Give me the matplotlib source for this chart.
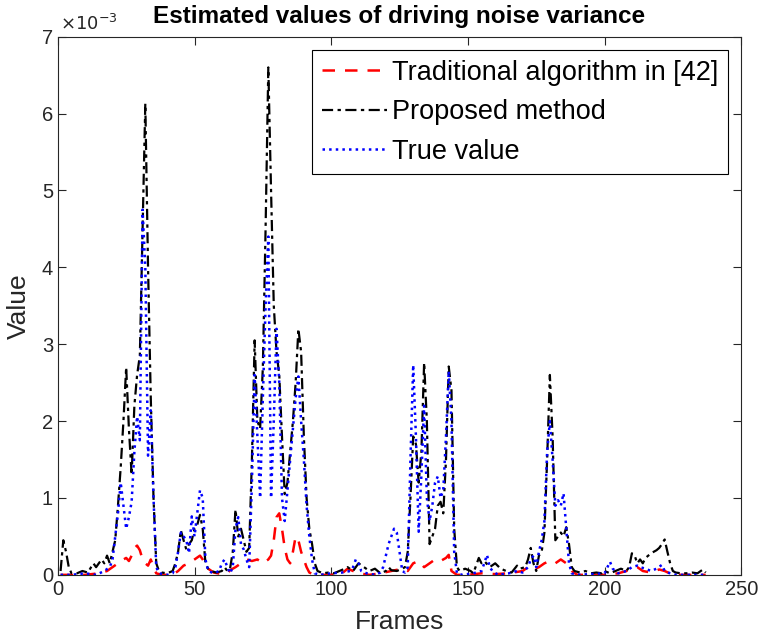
import numpy as np
from matplotlib import pyplot as plt

# Proposed method (black dash-dot), frame -> value in 1e-3 units
prop_frames = [1, 2, 3, 4, 5, 7, 9, 11, 13, 14, 16, 17, 18, 19, 20, 21, 22, 23, 24, 25,
               26, 27, 28, 29, 30, 31, 32, 33, 34, 35, 36, 37, 38, 40, 42, 43, 44, 45, 46, 47,
               48, 49, 50, 51, 52, 53, 54, 55, 56, 58, 60, 61, 62, 63, 64, 65, 66, 67, 68, 69,
               70, 71, 72, 73, 74, 75, 76, 77, 78, 79, 80, 81, 82, 83, 84, 85, 86, 87, 88, 89,
               90, 91, 92, 93, 94, 95, 97, 99, 101, 103, 105, 106, 108, 110, 112, 114, 116, 118, 120, 121,
               122, 124, 126, 127, 128, 129, 130, 131, 132, 133, 134, 135, 136, 137, 138, 139, 140, 141, 142, 143,
               144, 145, 146, 147, 149, 151, 152, 154, 155, 156, 158, 160, 162, 164, 166, 168, 169, 171, 172, 173,
               174, 175, 176, 177, 178, 179, 180, 181, 182, 183, 184, 185, 186, 187, 188, 189, 191, 193, 195, 197,
               199, 200, 202, 204, 206, 208, 209, 210, 211, 212, 213, 214, 215, 216, 217, 218, 219, 220, 221, 222,
               223, 224, 225, 226, 228, 230, 232, 234, 236, 237]
prop_vals = [0.05, 0.45, 0.3, 0.1, 0.02, 0.02, 0.05, 0.03, 0.15, 0.1, 0.2, 0.15, 0.25, 0.15, 0.3, 0.45, 0.9, 1.4, 2.0, 2.7,
             1.9, 1.3, 2.2, 2.6, 2.85, 4.5, 6.13, 4.0, 2.3, 1.0, 0.15, 0.05, 0.03, 0.02, 0.05, 0.15, 0.3, 0.58, 0.45, 0.33,
             0.4, 0.45, 0.6, 0.65, 0.78, 0.6, 0.15, 0.08, 0.05, 0.03, 0.05, 0.1, 0.05, 0.08, 0.3, 0.85, 0.5, 0.6, 0.45, 0.3,
             0.35, 1.5, 3.05, 2.0, 1.9, 2.7, 4.5, 6.6, 5.0, 3.5, 2.9, 2.6, 1.8, 1.05, 1.2, 1.6, 2.0, 2.5, 3.2, 2.9,
             1.8, 1.0, 0.6, 0.4, 0.15, 0.05, 0.02, 0.03, 0.02, 0.05, 0.08, 0.1, 0.05, 0.15, 0.1, 0.05, 0.08, 0.02, 0.05, 0.1,
             0.06, 0.05, 0.08, 0.1, 0.3, 1.0, 1.8, 1.7, 1.2, 1.6, 2.76, 2.0, 0.4, 0.5, 0.6, 0.9, 0.95, 0.8, 1.5, 2.71,
             2.4, 0.6, 0.1, 0.05, 0.08, 0.05, 0.02, 0.22, 0.15, 0.18, 0.1, 0.15, 0.08, 0.05, 0.03, 0.12, 0.08, 0.1, 0.2, 0.35,
             0.15, 0.05, 0.25, 0.3, 0.55, 1.5, 2.6, 1.8, 0.45, 0.5, 0.55, 0.5, 0.62, 0.4, 0.1, 0.05, 0.03, 0.05, 0.02, 0.03,
             0.02, 0.05, 0.02, 0.05, 0.08, 0.05, 0.1, 0.28, 0.25, 0.15, 0.2, 0.15, 0.22, 0.25, 0.28, 0.3, 0.32, 0.35, 0.4, 0.46,
             0.3, 0.15, 0.05, 0.03, 0.02, 0.02, 0.03, 0.02, 0.07, 0.03]

# True value (blue dotted)
true_frames = [1, 5, 10, 14, 17, 19, 20, 21, 22, 23, 24, 25, 26, 27, 28, 29, 30, 31, 32, 33,
               34, 35, 36, 37, 40, 42, 43, 44, 45, 46, 47, 48, 49, 50, 51, 52, 53, 54, 55, 57,
               59, 60, 61, 62, 63, 64, 65, 66, 67, 68, 69, 70, 71, 72, 73, 74, 75, 76, 77, 78,
               79, 80, 81, 82, 83, 84, 85, 86, 87, 88, 89, 90, 91, 92, 93, 94, 96, 100, 104, 107,
               108, 109, 110, 111, 113, 116, 118, 119, 120, 121, 122, 123, 124, 125, 126, 127, 128, 129, 130, 131,
               132, 133, 134, 135, 136, 137, 138, 139, 140, 141, 142, 143, 144, 145, 146, 148, 152, 155, 156, 157,
               158, 159, 161, 165, 168, 170, 172, 173, 174, 175, 176, 177, 178, 179, 180, 181, 182, 183, 184, 185,
               186, 187, 188, 190, 195, 200, 202, 203, 205, 208, 210, 212, 213, 215, 217, 219, 221, 222, 224, 226,
               230, 234, 237]
true_vals = [0.0, 0.0, 0.02, 0.0, 0.05, 0.1, 0.2, 0.5, 0.8, 1.2, 0.9, 0.6, 0.75, 0.95, 1.6, 2.06, 1.75, 4.75, 4.0, 1.55,
             2.14, 1.0, 0.1, 0.02, 0.0, 0.02, 0.1, 0.3, 0.55, 0.5, 0.45, 0.28, 0.76, 0.5, 0.8, 1.1, 1.0, 0.2, 0.05, 0.02,
             0.05, 0.15, 0.2, 0.1, 0.02, 0.1, 0.6, 0.75, 0.4, 0.33, 0.2, 0.1, 1.2, 2.6, 1.8, 1.0, 2.3, 3.5, 4.4, 1.0,
             2.0, 3.2, 2.5, 1.0, 0.7, 1.1, 1.5, 1.9, 2.3, 2.58, 2.0, 1.5, 0.9, 0.5, 0.2, 0.02, 0.0, 0.02, 0.03, 0.05,
             0.1, 0.2, 0.15, 0.05, 0.02, 0.0, 0.03, 0.1, 0.25, 0.4, 0.5, 0.6, 0.55, 0.3, 0.05, 0.03, 0.1, 1.5, 2.73, 1.8,
             0.56, 1.3, 2.2, 1.0, 0.7, 0.9, 1.2, 1.28, 1.0, 1.1, 1.8, 2.65, 2.0, 0.3, 0.02, 0.0, 0.02, 0.05, 0.15, 0.26,
             0.1, 0.05, 0.0, 0.02, 0.05, 0.03, 0.1, 0.2, 0.25, 0.1, 0.3, 0.45, 0.7, 1.6, 2.0, 1.5, 0.9, 0.97, 0.9, 1.06,
             0.6, 0.15, 0.02, 0.0, 0.01, 0.02, 0.17, 0.08, 0.02, 0.05, 0.1, 0.12, 0.1, 0.08, 0.05, 0.08, 0.13, 0.05, 0.02, 0.0,
             0.0, 0.0, 0.0]

# Traditional algorithm (red dashed)
trad_frames = [1, 10, 15, 18, 20, 22, 24, 25, 26, 27, 28, 29, 30, 31, 32, 33, 34, 35, 36, 38,
               42, 44, 46, 48, 50, 52, 53, 55, 57, 60, 62, 63, 65, 67, 69, 71, 73, 75, 77, 78,
               79, 80, 81, 82, 83, 84, 85, 86, 87, 88, 89, 90, 91, 92, 94, 100, 104, 106, 108, 110,
               114, 118, 122, 126, 128, 130, 132, 134, 136, 138, 140, 142, 143, 144, 146, 150, 155, 160, 165, 170,
               172, 174, 176, 178, 180, 182, 184, 186, 188, 190, 200, 205, 208, 210, 212, 214, 217, 220, 222, 225,
               237]
trad_vals = [0.0, 0.0, 0.02, 0.05, 0.1, 0.15, 0.2, 0.22, 0.18, 0.25, 0.35, 0.38, 0.32, 0.2, 0.15, 0.12, 0.2, 0.1, 0.02, 0.0,
             0.0, 0.05, 0.12, 0.15, 0.2, 0.25, 0.2, 0.08, 0.03, 0.01, 0.02, 0.06, 0.1, 0.15, 0.2, 0.18, 0.2, 0.15, 0.2, 0.25,
             0.45, 0.75, 0.8, 0.6, 0.35, 0.2, 0.15, 0.3, 0.5, 0.45, 0.3, 0.2, 0.1, 0.03, 0.0, 0.0, 0.02, 0.08, 0.05, 0.02,
             0.0, 0.02, 0.05, 0.08, 0.05, 0.15, 0.18, 0.1, 0.15, 0.2, 0.18, 0.22, 0.26, 0.05, 0.0, 0.0, 0.02, 0.01, 0.02, 0.05,
             0.1, 0.07, 0.1, 0.15, 0.18, 0.15, 0.2, 0.15, 0.05, 0.0, 0.0, 0.02, 0.05, 0.07, 0.1, 0.05, 0.03, 0.07, 0.05, 0.0,
             0.0]

x_ticks = [0, 50, 100, 150, 200, 250]
y_ticks = [0, 1, 2, 3, 4, 5, 6, 7]

plt.rcParams['font.family'] = ['Liberation Sans', 'DejaVu Sans']

fig = plt.figure(figsize=(7.61, 6.43), dpi=100)
ax = fig.add_axes([0.076, 0.106, 0.898, 0.837])

ax.plot(trad_frames, np.array(trad_vals) * 1e-3, '--', color='red', lw=1.8, dashes=(5, 4),
        label='Traditional algorithm in [42]')
ax.plot(prop_frames, np.array(prop_vals) * 1e-3, '-.', color='black', lw=1.6,
        dashes=(5, 2, 1.5, 2), label='Proposed method')
ax.plot(true_frames, np.array(true_vals) * 1e-3, ':', color='blue', lw=1.8, label='True value')

ax.set_xlim(0, 250)
ax.set_ylim(0, 7e-3)
ax.set_xticks(x_ticks)
ax.set_yticks([v * 1e-3 for v in y_ticks])
ax.set_yticklabels([str(v) for v in y_ticks])
ax.tick_params(direction='in', top=True, right=True, labelsize=14.5, colors='#262626', length=6)
for s in ax.spines.values():
    s.set_color('#262626')
    s.set_linewidth(0.8)

ax.text(0.003, 1.004, r'$\times10^{-3}$', transform=ax.transAxes, fontsize=13,
        ha='left', va='bottom', color='#262626')

ax.set_xlabel('Frames', fontsize=19, color='#262626', labelpad=8)
ax.set_ylabel('Value', fontsize=19, color='#262626', labelpad=8)
ax.set_title('Estimated values of driving noise variance', fontsize=17.5, fontweight='bold', pad=10)

leg = ax.legend(loc='upper right', fontsize=19.5, fancybox=False, edgecolor='black',
                framealpha=1, handlelength=2.4, handletextpad=0.2, borderaxespad=0.5,
                labelspacing=0.5, borderpad=0.35)
leg.get_frame().set_linewidth(0.8)

plt.savefig('out.png', dpi=100)
